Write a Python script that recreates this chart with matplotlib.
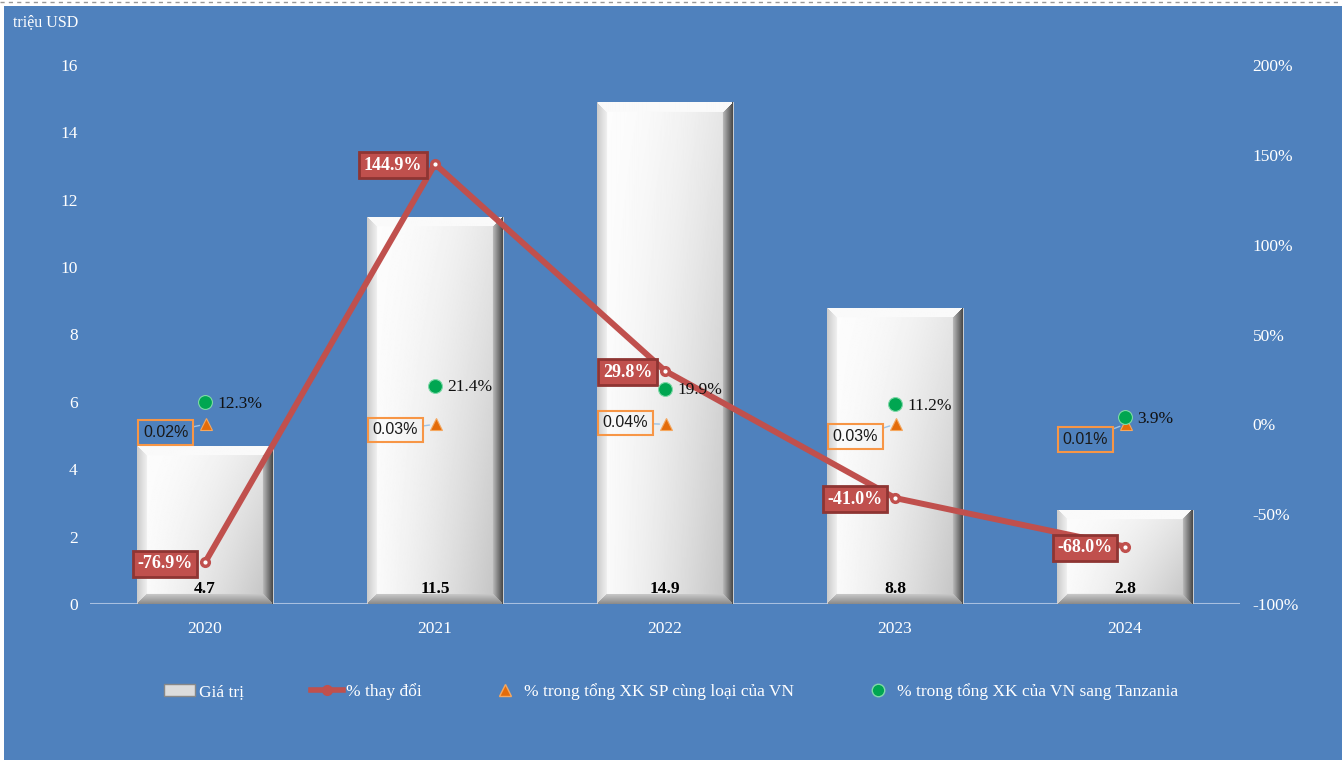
import numpy as np
import matplotlib.pyplot as plt
from matplotlib.patches import Rectangle
from matplotlib.lines import Line2D

# DATA
years = ['2020', '2021', '2022', '2023', '2024']
gia_tri = [4.7, 11.5, 14.9, 8.8, 2.8]                 # triệu USD
thay_doi = [-76.9, 144.9, 29.8, -41.0, -68.0]         # %
ty_trong_sp = [0.02, 0.03, 0.04, 0.03, 0.01]          # % trong tổng XK SP cùng loại của VN
ty_trong_tz = [12.3, 21.4, 19.9, 11.2, 3.9]           # % trong tổng XK của VN sang Tanzania

BLUE = '#4F81BD'
RED = '#C0504D'
ORANGE = '#E46C0A'
GREEN = '#00A651'
SERIF = 'Liberation Serif'

plt.rcParams['font.family'] = SERIF

fig = plt.figure(figsize=(13.42, 7.6), dpi=100)
fig.patch.set_facecolor(BLUE)
# white strip on top and left edge
fig.add_artist(Rectangle((0, 1 - 6/760), 1, 6/760, transform=fig.transFigure,
                         facecolor='white', edgecolor='none', zorder=-5))
fig.add_artist(Rectangle((0, 0), 4/1342, 1, transform=fig.transFigure,
                         facecolor='white', edgecolor='none', zorder=-5))
fig.add_artist(Line2D([0, 1], [1 - 2/760, 1 - 2/760], transform=fig.transFigure,
                      color='#999999', lw=1, ls=(0, (3, 3)), zorder=-4))

ax = fig.add_axes([90/1342, 1 - 604/760, 1150/1342, 539/760])
ax.set_facecolor('none')
ax2 = ax.twinx()

x = np.arange(len(years))
bw = 0.59

# bars with bevel look
def bevel_img(h, nx=135):
    ny = max(int(h * 33.7), 10)
    u = np.linspace(0, 1, nx)[None, :] * np.ones((ny, 1))
    v = np.linspace(0, 1, ny)[:, None] * np.ones((1, nx))   # 0 = bottom
    px_u = u * nx
    px_v = v * ny
    dl, dr, db, dt = px_u, nx - px_u, px_v, ny - px_v
    img = 0.99 - 0.10 * u ** 2 - 0.14 * (1 - v) * u
    b = 10
    m = np.minimum(np.minimum(dl, dr), np.minimum(db, dt))
    side = np.argmin(np.stack([dl, dr, db, dt]), axis=0)
    edge = m < b
    img = np.where(edge & (side == 0), 0.80 + 0.15 * (dl / b), img)
    img = np.where(edge & (side == 1), 0.30 + 0.45 * (dr / b), img)
    img = np.where(edge & (side == 2), 0.55 + 0.25 * (db / b), img)
    img = np.where(edge & (side == 3), 0.98, img)
    return img[::-1]

bars = ax.bar(x, gia_tri, width=bw, color='#e8e8e8', edgecolor='#d0d0d0', lw=0.6, zorder=2)
for rect, val in zip(bars, gia_tri):
    im = ax.imshow(bevel_img(val), cmap='gray', vmin=0, vmax=1, aspect='auto', zorder=2.1,
                   extent=(rect.get_x(), rect.get_x() + rect.get_width(), 0, val),
                   interpolation='bilinear')
    im.set_clip_path(rect)
    ax.text(rect.get_x() + rect.get_width() / 2, 0.2, f'{val:.1f}', ha='center', va='bottom',
            fontsize=12.5, fontweight='bold', color='black', zorder=3)

ax.set_xlim(-0.5, 4.5)
ax.set_ylim(0, 16)
ax.set_yticks(range(0, 17, 2))
ax.set_xticks(x)
ax.set_xticklabels(years)

ax2.set_ylim(-100, 200)
ax2.set_yticks(range(-100, 201, 50))
ax2.set_yticklabels([f'{t}%' for t in range(-100, 201, 50)])

for a in (ax, ax2):
    for s in a.spines.values():
        s.set_visible(False)
    a.tick_params(length=0, colors='white', labelsize=12.5)
ax.tick_params(axis='y', pad=9)
ax.tick_params(axis='x', pad=12)
ax2.tick_params(axis='y', pad=9)
ax.axhline(0, color='#a9c0e0', lw=1.5, zorder=1.5)

# % thay đổi
ax2.plot(x, thay_doi, color=RED, lw=4.3, zorder=5, solid_capstyle='round',
         marker='o', ms=7, mfc=RED, mec=RED)
ax2.plot(x, thay_doi, ls='none', marker='o', ms=2, mfc='white', mec='white', zorder=6)
for xi, yi in zip(x, thay_doi):
    ax2.annotate(f'{yi:.1f}%', (xi, yi), xytext=(-9, -1), textcoords='offset points',
                 ha='right', va='center', fontsize=13, fontweight='bold', color='white',
                 bbox=dict(boxstyle='square,pad=0.25', fc=RED, ec='#8E3533', lw=2), zorder=7)

# % trong tổng XK SP cùng loại của VN
ax2.plot(x + 0.005, ty_trong_sp, ls='none', marker='^', ms=9, mfc=ORANGE, mec='#F5A860',
         mew=0.8, zorder=6)
sp_off = [(-12, -6), (-12, -4), (-12, 1), (-12, -9), (-12, -11)]
for xi, yi, off in zip(x, ty_trong_sp, sp_off):
    ax2.annotate(f'{yi:.2f}%', (xi, yi), xytext=off, textcoords='offset points',
                 ha='right', va='center', fontsize=11.5, color='#1a1a1a', family='Liberation Sans',
                 bbox=dict(boxstyle='square,pad=0.3', fc='none', ec='#F79646', lw=1.5),
                 arrowprops=dict(arrowstyle='-', color='#9DC3E6', lw=1, shrinkA=0, shrinkB=4),
                 zorder=7)

# % trong tổng XK của VN sang Tanzania
ax2.plot(x, ty_trong_tz, ls='none', marker='o', ms=10, mfc=GREEN, mec='#7FD9A8', mew=0.8,
         zorder=8)
for xi, yi in zip(x, ty_trong_tz):
    ax2.annotate(f'{yi:.1f}%', (xi, yi), xytext=(9, -1), textcoords='offset points',
                 ha='left', va='center', fontsize=12.5, color='#111111', zorder=8)

fig.text(13/1342, 1 - 22/760, 'triệu USD', color='white', fontsize=11.5, va='center')

handles = [
    Rectangle((0, 0), 1, 1, facecolor='#dcdcdc', edgecolor='#888888'),
    Line2D([], [], color=RED, lw=4, marker='o', ms=7, mfc=RED, mec=RED),
    Line2D([], [], ls='none', marker='^', ms=8, mfc=ORANGE, mec='#F5A860'),
    Line2D([], [], ls='none', marker='o', ms=9, mfc=GREEN, mec='#7FD9A8'),
]
labels = ['Giá trị', '% thay đổi', '% trong tổng XK SP cùng loại của VN',
          '% trong tổng XK của VN sang Tanzania']
leg = fig.legend(handles, labels, loc='center', bbox_to_anchor=(0.5, 1 - 692/760), ncol=4,
                 frameon=False, fontsize=12.5, labelcolor='white', columnspacing=3.9,
                 handlelength=1.8, handletextpad=0.2)

fig.savefig('out.png', dpi=100, facecolor=BLUE)
